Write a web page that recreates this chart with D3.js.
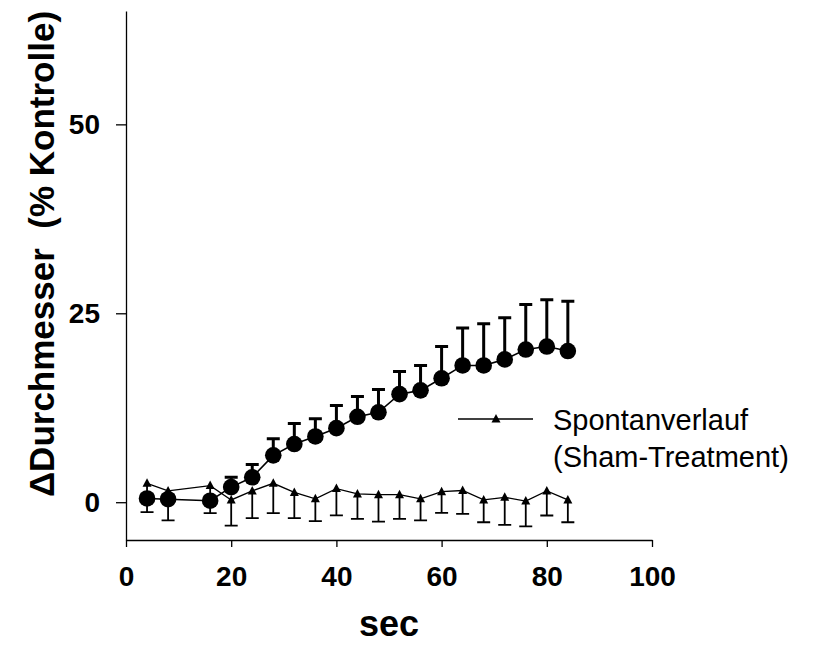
<!DOCTYPE html>
<html>
<head>
<meta charset="utf-8">
<script src="https://cdn.jsdelivr.net/npm/d3@7"></script>
<style>
  html, body { margin: 0; padding: 0; background: #fff; }
  text { font-family: "Liberation Sans", Arial, sans-serif; }
</style>
</head>
<body>
<svg id="chart" width="826" height="652"></svg>
<script>
// Time points (sec)
const secs = [4, 8, 16, 20, 24, 28, 32, 36, 40, 44, 48, 52, 56, 60, 64, 68, 72, 76, 80, 84];
// Treated series (filled circles), mean and upper error
const treated = [0.5, 0.4, 0.2, 2.0, 3.3, 6.2, 7.7, 8.7, 9.8, 11.3, 11.9, 14.3, 14.8, 16.4, 18.1, 18.1, 18.9, 20.2, 20.6, 20.0];
const treatedErr = [0.5, 0.5, 0.5, 1.3, 1.7, 2.2, 2.7, 2.35, 3.0, 2.7, 3.0, 3.0, 3.3, 4.2, 4.95, 5.5, 5.5, 5.95, 6.2, 6.6];
// Sham series (triangles), mean and lower error
const sham = [2.5, 1.5, 2.2, 0.3, 1.5, 2.5, 1.3, 0.45, 1.8, 1.1, 1.0, 1.0, 0.45, 1.4, 1.55, 0.3, 0.65, 0.15, 1.5, 0.3];
const shamErr = [3.8, 3.9, 3.65, 3.4, 3.6, 3.95, 3.4, 2.95, 3.55, 3.3, 3.56, 3.2, 2.85, 2.8, 3.1, 2.95, 3.65, 3.35, 3.26, 2.95];

const xTicks = [0, 20, 40, 60, 80, 100];
const yTicks = [0, 25, 50];
const legendLines = ["Spontanverlauf", "(Sham-Treatment)"];

const svg = d3.select("#chart");

const x = d3.scaleLinear().domain([0, 100]).range([126, 652]);
const y = d3.scaleLinear().domain([-5, 65]).range([540, 11]);

// Axes
const yAxis = d3.axisLeft(y).tickValues(yTicks).tickSize(10).tickSizeOuter(0).tickPadding(16).tickFormat(d3.format("d"));
const xAxis = d3.axisBottom(x).tickValues(xTicks).tickSize(7).tickSizeOuter(0).tickPadding(19).tickFormat(d3.format("d"));

const gy = svg.append("g").attr("transform", "translate(126,0)").call(yAxis);
const gx = svg.append("g").attr("transform", "translate(0,540)").call(xAxis);

[gy, gx].forEach(g => {
    g.selectAll("path, line").attr("stroke", "#000").attr("stroke-width", 1.3);
    g.selectAll("text")
        .attr("fill", "#000")
        .style("font-size", "28px")
        .style("font-weight", "bold")
        .style("font-family", "'Liberation Sans', Arial, sans-serif");
});
gx.selectAll("text").attr("dy", "0.71em");

// Axis titles
svg.append("text")
    .attr("x", 389)
    .attr("y", 636)
    .attr("text-anchor", "middle")
    .style("font-size", "36px")
    .style("font-weight", "bold")
    .text("sec");

svg.append("text")
    .attr("transform", "translate(54,254) rotate(-90)")
    .attr("text-anchor", "middle")
    .style("font-size", "35px")
    .style("font-weight", "bold")
    .style("white-space", "pre")
    .attr("xml:space", "preserve")
    .text("\u0394Durchmesser  (% Kontrolle)");

const shamData = secs.map((s, i) => ({ s, v: sham[i], e: shamErr[i] }));
const treatedData = secs.map((s, i) => ({ s, v: treated[i], e: treatedErr[i] }));

const line = d3.line().x(d => x(d.s)).y(d => y(d.v));
const tri = (cx, cy) => `M${cx},${cy - 5}L${cx + 4.5},${cy + 3.5}L${cx - 4.5},${cy + 3.5}Z`;

// Sham: line, downward error bars, triangles
const gs = svg.append("g");
gs.append("path")
    .datum(shamData)
    .attr("d", line)
    .attr("fill", "none")
    .attr("stroke", "#000")
    .attr("stroke-width", 1.3);
gs.selectAll(".sham-bar")
    .data(shamData)
    .enter()
    .append("path")
    .attr("class", "sham-bar")
    .attr("d", d => `M${x(d.s)},${y(d.v)}V${y(d.v - d.e)}M${x(d.s) - 6.5},${y(d.v - d.e)}H${x(d.s) + 6.5}`)
    .attr("fill", "none")
    .attr("stroke", "#000")
    .attr("stroke-width", 1.8);
gs.selectAll(".sham-pt")
    .data(shamData)
    .enter()
    .append("path")
    .attr("class", "sham-pt")
    .attr("d", d => tri(x(d.s), y(d.v)))
    .attr("fill", "#000");

// Treated: line, upward error bars, circles
const gt = svg.append("g");
gt.append("path")
    .datum(treatedData)
    .attr("d", line)
    .attr("fill", "none")
    .attr("stroke", "#000")
    .attr("stroke-width", 1.6);
gt.selectAll(".treated-bar")
    .data(treatedData)
    .enter()
    .append("path")
    .attr("class", "treated-bar")
    .attr("d", d => `M${x(d.s)},${y(d.v)}V${y(d.v + d.e)}M${x(d.s) - 6.5},${y(d.v + d.e)}H${x(d.s) + 6.5}`)
    .attr("fill", "none")
    .attr("stroke", "#000")
    .attr("stroke-width", 3);
gt.selectAll(".treated-pt")
    .data(treatedData)
    .enter()
    .append("circle")
    .attr("class", "treated-pt")
    .attr("cx", d => x(d.s))
    .attr("cy", d => y(d.v))
    .attr("r", 8.3)
    .attr("fill", "#000");

// Legend
const lg = svg.append("g");
lg.append("line")
    .attr("x1", 458).attr("x2", 533)
    .attr("y1", 419).attr("y2", 419)
    .attr("stroke", "#000")
    .attr("stroke-width", 1.3);
lg.append("path").attr("d", tri(496, 419)).attr("fill", "#000");
lg.selectAll("text")
    .data(legendLines)
    .enter()
    .append("text")
    .attr("x", 553)
    .attr("y", (d, i) => 430 + i * 37)
    .style("font-size", "29px")
    .text(d => d);
</script>
</body>
</html>
